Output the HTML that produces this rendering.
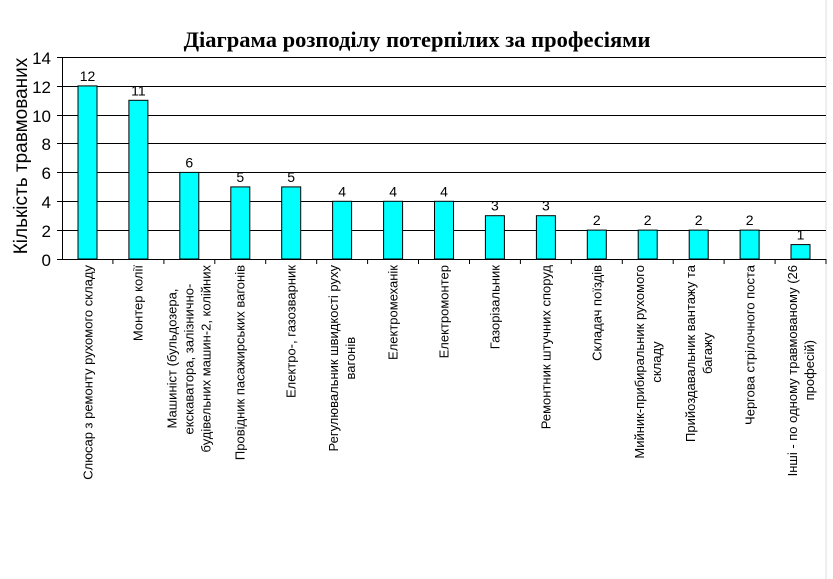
<!DOCTYPE html>
<html><head><meta charset="utf-8"><style>
body{margin:0;background:#fff;}
#c{position:relative;width:833px;height:579px;overflow:hidden;font-family:"Liberation Sans",sans-serif;}
.lab{position:absolute;top:265px;writing-mode:vertical-rl;transform:translateX(-50%) rotate(180deg);font-size:13px;line-height:17px;text-align:center;white-space:nowrap;color:#000;}
</style></head><body><div id="c">
<svg width="833" height="579" style="position:absolute;left:0;top:0">
<line x1="826" y1="0" x2="826" y2="579" stroke="#ddd"/>
<text x="417" y="47" text-anchor="middle" font-family="Liberation Serif" font-weight="bold" font-size="22.5">Діаграма розподілу потерпілих за професіями</text>
<text transform="translate(27,156) rotate(-90)" text-anchor="middle" font-size="19">Кількість травмованих</text>
<g stroke="#000" stroke-width="1">
<line x1="62" y1="57.5" x2="826" y2="57.5"/><line x1="62" y1="86.5" x2="826" y2="86.5"/><line x1="62" y1="115.5" x2="826" y2="115.5"/><line x1="62" y1="143.5" x2="826" y2="143.5"/><line x1="62" y1="172.5" x2="826" y2="172.5"/><line x1="62" y1="201.5" x2="826" y2="201.5"/><line x1="62" y1="230.5" x2="826" y2="230.5"/><line x1="62" y1="259.5" x2="826" y2="259.5"/>
<line x1="62.5" y1="57" x2="62.5" y2="259"/>
<line x1="57" y1="57.5" x2="62" y2="57.5"/><line x1="57" y1="86.5" x2="62" y2="86.5"/><line x1="57" y1="115.5" x2="62" y2="115.5"/><line x1="57" y1="143.5" x2="62" y2="143.5"/><line x1="57" y1="172.5" x2="62" y2="172.5"/><line x1="57" y1="201.5" x2="62" y2="201.5"/><line x1="57" y1="230.5" x2="62" y2="230.5"/><line x1="57" y1="259.5" x2="62" y2="259.5"/>
</g>
<g font-size="17" text-anchor="end">
<text x="51" y="64">14</text><text x="51" y="93">12</text><text x="51" y="122">10</text><text x="51" y="150">8</text><text x="51" y="179">6</text><text x="51" y="208">4</text><text x="51" y="237">2</text><text x="51" y="266">0</text>
</g>
<g id="bars" fill="#00ffff" stroke="#000" stroke-width="1"></g>
<g id="ticks" stroke="#000"></g>
<g id="vals" font-size="14" text-anchor="middle"></g>
</svg>
<div id="labs"></div>
</div>
<script>
var v=[12,11,6,5,5,4,4,4,3,3,2,2,2,2,1];
var L=["Слюсар з ремонту рухомого складу","Монтер колії","Машиніст (бульдозера,<br>екскаватора, залізнично-<br>будівельних машин-2, колійних","Провідник пасажирських вагонів","Електро-, газозварник","Регулювальник швидкості руху<br>вагонів","Електромеханік","Електромонтер","Газорізальник","Ремонтник штучних споруд","Складач поїздів","Мийник-прибиральник рухомого<br>складу","Прийоздавальник вантажу та<br>багажу","Чергова стрілочного поста","Інші - по одному травмованому (26<br>професій)"];
var w=764/15,b="",t="",s="",h="";
for(var i=0;i<15;i++){var c=62+w*(i+0.5),y=259-v[i]*202/14;
b+='<rect x="'+(c-9.5).toFixed(1)+'" y="'+y.toFixed(1)+'" width="19" height="'+(259-y).toFixed(1)+'"/>';
t+='<line x1="'+(62+w*(i+1)).toFixed(1)+'" y1="259" x2="'+(62+w*(i+1)).toFixed(1)+'" y2="264"/>';
s+='<text x="'+c.toFixed(1)+'" y="'+(y-5).toFixed(1)+'">'+v[i]+'</text>';
h+='<div class="lab" style="left:'+c.toFixed(1)+'px">'+L[i]+'</div>';}
document.getElementById('bars').innerHTML=b;document.getElementById('ticks').innerHTML=t;document.getElementById('vals').innerHTML=s;document.getElementById('labs').innerHTML=h;
</script>
</body></html>
